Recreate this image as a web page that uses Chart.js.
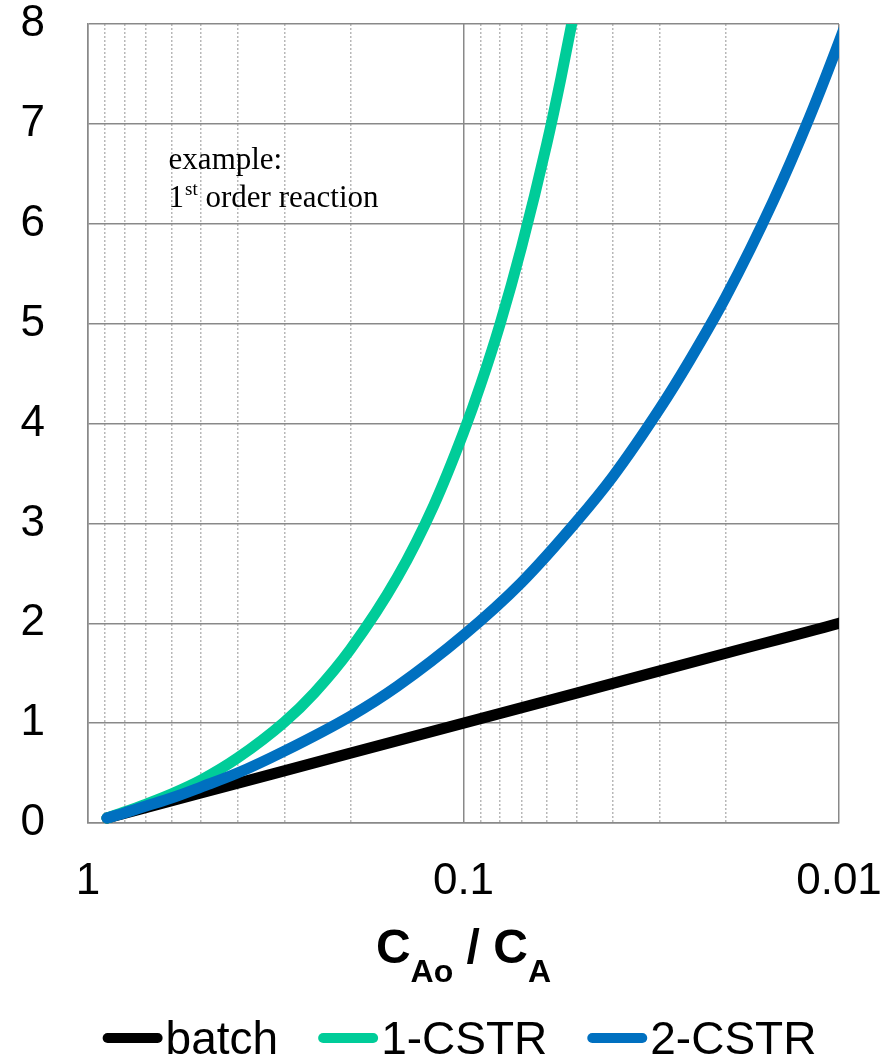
<!DOCTYPE html>
<html>
<head>
<meta charset="utf-8">
<script src="https://cdn.jsdelivr.net/npm/chart.js@4.4.0/dist/chart.umd.min.js"></script>
<style>
  html, body { margin: 0; padding: 0; background: #fff; }
</style>
</head>
<body>
<canvas id="chart" width="896" height="1058"></canvas>
<script>
// values (x = CA/CAo, log axis, reversed)
const batchX = [0.89, 0.5, 0.2, 0.1, 0.05, 0.02, 0.01, 0.009];
const batchY = [0.05, 0.30, 0.70, 1.00, 1.30, 1.70, 2.00, 2.05];

const cstr1X = [0.89, 0.8, 0.7, 0.6, 0.5, 0.4, 0.3, 0.25, 0.2, 0.15, 0.12, 0.1, 0.09, 0.08, 0.07, 0.06, 0.055, 0.05];
const cstr1Y = [0.05, 0.11, 0.19, 0.29, 0.43, 0.65, 1.01, 1.30, 1.74, 2.46, 3.18, 3.91, 4.39, 4.99, 5.77, 6.80, 7.46, 8.25];

const cstr2X = [0.89, 0.8, 0.7, 0.6, 0.5, 0.4, 0.3, 0.2, 0.15, 0.1, 0.07, 0.05, 0.04, 0.03, 0.025, 0.02, 0.015, 0.012, 0.01, 0.009];
const cstr2Y = [0.05, 0.10, 0.17, 0.25, 0.36, 0.50, 0.72, 1.07, 1.37, 1.88, 2.41, 3.02, 3.47, 4.15, 4.63, 5.27, 6.22, 7.06, 7.82, 8.29];

const seriesLabels = ['batch', '1-CSTR', '2-CSTR'];
const seriesColors = ['#000000', '#00cc99', '#0070c0'];

const xMajorTicks = [1, 0.1, 0.01];
const xMajorLabels = ['1', '0.1', '0.01'];
const xMinorSteps = [2, 3, 4, 5, 6, 7, 8, 9];

const yTicks = [0, 1, 2, 3, 4, 5, 6, 7, 8];

const noteLines = ['example:', '1', 'st', ' order reaction'];

function toPoints(xs, ys) {
    return xs.map((x, i) => ({ x: x, y: ys[i] }));
}

function isMajor(v) {
    return xMajorTicks.some(m => Math.abs(v - m) < m * 1e-6);
}

const FONT = "'Liberation Sans', Arial, sans-serif";
Chart.defaults.font.family = FONT;
Chart.defaults.color = '#000';

// title with subscripts, note text and legend
const extrasPlugin = {
    id: 'extras',
    afterDraw(chart) {
        const ctx = chart.ctx;
        const area = chart.chartArea;
        const xs = chart.scales.x, ys = chart.scales.y;
        ctx.save();

        // note
        ctx.fillStyle = '#000';
        ctx.textBaseline = 'alphabetic';
        const nx = xs.getPixelForValue(0.61);
        ctx.font = "31px 'Liberation Serif', 'Times New Roman', serif";
        ctx.fillText(noteLines[0], nx, ys.getPixelForValue(6.55));
        const y2 = ys.getPixelForValue(6.17);
        ctx.fillText(noteLines[1], nx, y2);
        let px = nx + ctx.measureText(noteLines[1]).width;
        ctx.font = "19px 'Liberation Serif', 'Times New Roman', serif";
        ctx.fillText(noteLines[2], px + 1, y2 - 12);
        px += ctx.measureText(noteLines[2]).width + 1;
        ctx.font = "31px 'Liberation Serif', 'Times New Roman', serif";
        ctx.fillText(noteLines[3], px, y2);

        // axis title  C_Ao / C_A
        const big = "bold 48px " + FONT, small = "bold 32px " + FONT;
        const parts = [['C', big, 0], ['Ao', small, 19], [' / ', big, 0], ['C', big, 0], ['A', small, 19]];
        let tw = 0;
        parts.forEach(p => { ctx.font = p[1]; tw += ctx.measureText(p[0]).width; });
        let tx = (area.left + area.right) / 2 - tw / 2;
        const tb = 963;
        parts.forEach(p => {
            ctx.font = p[1];
            ctx.fillText(p[0], tx, tb + p[2]);
            tx += ctx.measureText(p[0]).width;
        });

        // legend
        ctx.font = "46px " + FONT;
        const lineW = 60, gap = 3, sep = 40;
        const items = chart.data.datasets.map(ds => ({ label: ds.label, color: ds.borderColor, w: ctx.measureText(ds.label).width }));
        const total = items.reduce((s, it) => s + lineW + gap + it.w, 0) + sep * (items.length - 1);
        let lx = (area.left + area.right) / 2 - 4 - total / 2;
        const lb = 1054;
        items.forEach(it => {
            ctx.strokeStyle = it.color;
            ctx.lineWidth = 10;
            ctx.lineCap = 'round';
            ctx.beginPath();
            ctx.moveTo(lx + 5, lb - 16);
            ctx.lineTo(lx + lineW - 5, lb - 16);
            ctx.stroke();
            ctx.fillStyle = '#000';
            ctx.fillText(it.label, lx + lineW + gap, lb);
            lx += lineW + gap + it.w + sep;
        });
        ctx.restore();
    }
};

const allX = [batchX, cstr1X, cstr2X];
const allY = [batchY, cstr1Y, cstr2Y];
const drawOrder = [3, 2, 1];

const chart = new Chart(document.getElementById('chart').getContext('2d'), {
    type: 'line',
    data: {
        datasets: seriesLabels.map((label, i) => ({
            label: label,
            data: toPoints(allX[i], allY[i]),
            borderColor: seriesColors[i],
            backgroundColor: seriesColors[i],
            borderWidth: 11,
            borderCapStyle: 'round',
            borderJoinStyle: 'round',
            pointRadius: 0,
            cubicInterpolationMode: 'monotone',
            fill: false,
            clip: { left: 0, top: 0, right: 0, bottom: 6 },
            order: drawOrder[i]
        }))
    },
    options: {
        responsive: false,
        animation: false,
        devicePixelRatio: 1,
        layout: { padding: { left: 21, right: 14, top: 0, bottom: 142 } },
        plugins: {
            legend: { display: false },
            tooltip: { enabled: false }
        },
        scales: {
            x: {
                type: 'logarithmic',
                reverse: true,
                min: 0.01,
                max: 1,
                afterBuildTicks: scale => {
                    const t = [];
                    [0.01, 0.1].forEach(d => {
                        t.push({ value: d });
                        xMinorSteps.forEach(s => t.push({ value: d * s }));
                    });
                    t.push({ value: 1 });
                    scale.ticks = t;
                },
                afterFit: scale => {
                    scale.paddingLeft = 12;
                    scale.paddingRight = 57;
                    scale.height = 93;
                },
                ticks: {
                    autoSkip: false,
                    maxRotation: 0,
                    padding: 32,
                    font: { size: 44 },
                    color: '#000',
                    callback: function (value) {
                        const k = xMajorTicks.findIndex(m => Math.abs(value - m) < m * 1e-6);
                        return k >= 0 ? xMajorLabels[k] : '';
                    }
                },
                grid: {
                    drawTicks: false,
                    lineWidth: 1.5,
                    color: c => (c.tick && !isMajor(c.tick.value)) ? '#b8b8b8' : '#898989'
                },
                border: {
                    display: true,
                    color: '#898989',
                    width: 1.5,
                    dash: c => (c.tick && !isMajor(c.tick.value)) ? [2, 2] : []
                }
            },
            y: {
                min: 0,
                max: 8,
                afterBuildTicks: scale => { scale.ticks = yTicks.map(v => ({ value: v })); },
                afterFit: scale => {
                    scale.paddingTop = 24;
                    scale.paddingBottom = 0;
                    scale.width = 67;
                },
                ticks: {
                    padding: 43,
                    font: { size: 44 },
                    color: '#000'
                },
                grid: {
                    drawTicks: false,
                    lineWidth: 1.5,
                    color: '#898989'
                },
                border: { color: '#898989', width: 1.5 }
            }
        }
    },
    plugins: [extrasPlugin]
});
</script>
</body>
</html>
